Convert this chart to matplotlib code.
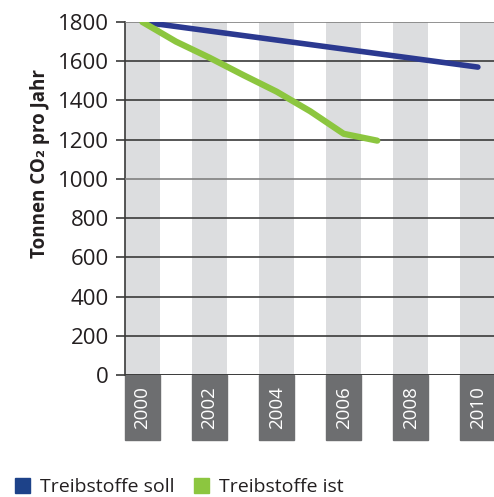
import matplotlib
matplotlib.use('Agg')
import matplotlib.pyplot as plt
from matplotlib.patches import Rectangle, Patch
import matplotlib.transforms as mtransforms

# target path (soll) and actual emissions (ist), tonnes CO2 per year
soll_years = [2000, 2010]
soll_values = [1800, 1570]
ist_years = [2000, 2001, 2002, 2003, 2004, 2005, 2006, 2007]
ist_values = [1800, 1700, 1618, 1530, 1445, 1345, 1230, 1195]
label_years = [2000, 2002, 2004, 2006, 2008, 2010]
y_ticks = list(range(0, 2000, 200))

BLUE = '#2b3990'
GREEN = '#8cc63f'
COL_GRAY = '#dcdddf'
BOX_GRAY = '#6d6e70'
GRID = '#3a3a3a'
GRID_LIGHT = '#808080'

plt.rcParams['font.family'] = ['Open Sans', 'DejaVu Sans']

fig = plt.figure(figsize=(4.94, 4.97), dpi=100)
W, H = 494, 497
ax = fig.add_axes([125 / W, 1 - 375 / H, (494 - 125) / W, (375 - 22) / H])

ax.set_xlim(1999.48, 2010.48)
ax.set_ylim(0, 1800)

# grey background columns for every second year
ax.bar(label_years, [1800] * len(label_years), width=1.04, color=COL_GRAY, zorder=0)

ax.set_yticks(y_ticks)
ax.set_yticklabels([str(v) for v in y_ticks], fontsize=16, color='#231f20')
ax.yaxis.grid(True, color=GRID, lw=1.2, zorder=1)
ax.set_axisbelow(False)
ax.tick_params(axis='y', length=6.5, width=1.2, color=GRID, pad=5)
for val, gl in zip(y_ticks, ax.get_ygridlines()):
    if val in (1000, 1800):
        gl.set_color(GRID_LIGHT)
ax.set_xticks([])
for s in ['top', 'right', 'bottom']:
    ax.spines[s].set_visible(False)
ax.spines['left'].set_color(GRID)
ax.spines['left'].set_linewidth(1.2)
ax.axhline(0, color=GRID, lw=1.2, zorder=2)

ax.plot(soll_years, soll_values, color=BLUE, lw=4, solid_capstyle='round', zorder=3)
ax.plot(ist_years, ist_values, color=GREEN, lw=4.5, solid_capstyle='round',
        solid_joinstyle='round', zorder=4)

# dark boxes holding the year labels below the axis
trans = mtransforms.blended_transform_factory(ax.transData, ax.transAxes)
box_h = 65 / 353
for yr in label_years:
    ax.add_patch(Rectangle((yr - 0.52, -box_h), 1.04, box_h, transform=trans,
                           color=BOX_GRAY, clip_on=False, zorder=2))
    ax.text(yr, -box_h / 2, str(yr), transform=trans, rotation=90,
            ha='center', va='center', color='white', fontsize=13.5)

fig.text(40 / W, 1 - 163 / H, 'Tonnen CO₂ pro Jahr', rotation=90,
         ha='center', va='center', fontsize=13.5, fontweight='bold', color='#231f20')

handles = [Patch(color='#1d4289', label='Treibstoffe soll'),
           Patch(color=GREEN, label='Treibstoffe ist')]
fig.legend(handles=handles, loc='lower left', bbox_to_anchor=(-3 / W, -17 / H),
           ncol=2, frameon=False, fontsize=14, handlelength=0.8, handleheight=0.8,
           handletextpad=0.5, columnspacing=1.0, labelcolor='#231f20')

fig.savefig('out.png', dpi=100)
